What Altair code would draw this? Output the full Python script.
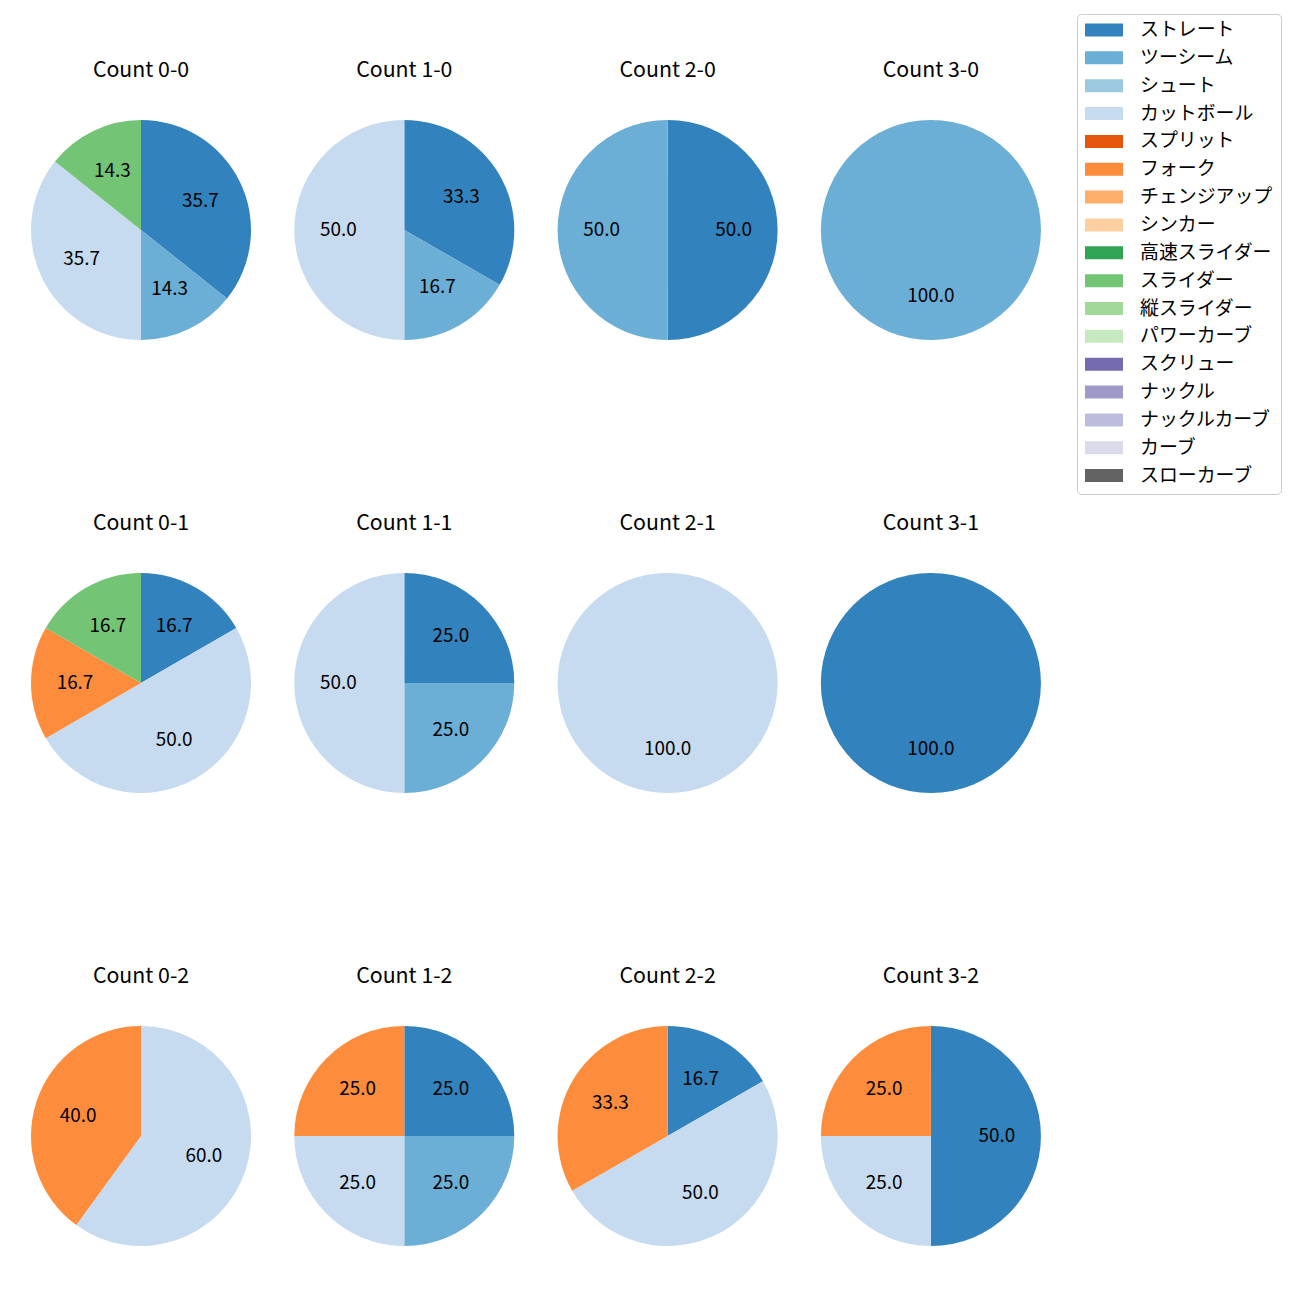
import altair as alt
import pandas as pd

FONT = "Noto Sans CJK JP"

pitch_types = ["ストレート", "ツーシーム", "シュート", "カットボール", "スプリット", "フォーク",
               "チェンジアップ", "シンカー", "高速スライダー", "スライダー", "縦スライダー",
               "パワーカーブ", "スクリュー", "ナックル", "ナックルカーブ", "カーブ", "スローカーブ"]
pitch_colors = ["#3182bd", "#6baed6", "#9ecae1", "#c6dbef", "#e6550d", "#fd8d3c",
                "#fdae6b", "#fdd0a2", "#31a354", "#74c476", "#a1d99b", "#c7e9c0",
                "#756bb1", "#9e9ac8", "#bcbddc", "#dadaeb", "#636363"]

counts = ["0-0", "1-0", "2-0", "3-0",
          "0-1", "1-1", "2-1", "3-1",
          "0-2", "1-2", "2-2", "3-2"]

count_pitches = [
    ["ストレート", "ツーシーム", "カットボール", "スライダー"],
    ["ストレート", "ツーシーム", "カットボール"],
    ["ストレート", "ツーシーム"],
    ["ツーシーム"],
    ["ストレート", "カットボール", "フォーク", "スライダー"],
    ["ストレート", "ツーシーム", "カットボール"],
    ["カットボール"],
    ["ストレート"],
    ["カットボール", "フォーク"],
    ["ストレート", "ツーシーム", "カットボール", "フォーク"],
    ["ストレート", "カットボール", "フォーク"],
    ["ストレート", "カットボール", "フォーク"],
]
count_shares = [
    [35.7, 14.3, 35.7, 14.3],
    [33.3, 16.7, 50.0],
    [50.0, 50.0],
    [100.0],
    [16.7, 50.0, 16.7, 16.7],
    [25.0, 25.0, 50.0],
    [100.0],
    [100.0],
    [60.0, 40.0],
    [25.0, 25.0, 25.0, 25.0],
    [16.7, 50.0, 33.3],
    [50.0, 25.0, 25.0],
]

rows = []
for c, ps, vs in zip(counts, count_pitches, count_shares):
    for p, v in zip(ps, vs):
        rows.append({"cnt": c, "pitch": p, "share": v, "order": pitch_types.index(p)})
df = pd.DataFrame(rows)

legend = alt.Legend(
    orient="none", legendX=1046, legendY=-106, title=None,
    labelFont=FONT, labelFontSize=18.9, labelColor="black",
    symbolType="M-1,-0.333H1V0.333H-1Z", symbolSize=1521, symbolStrokeWidth=0,
    symbolOpacity=1, labelOffset=17, clipHeight=16, rowPadding=8.85, padding=8,
    symbolOffset=-1,
    strokeColor="#cccccc", cornerRadius=4, fillColor="white",
)


def panel(c):
    base = alt.Chart().transform_filter(alt.datum.cnt == c).encode(
        theta=alt.Theta("share:Q", stack=True),
        order=alt.Order("order:Q", sort="ascending"),
        detail="pitch:N",
    )
    arc = base.mark_arc(outerRadius=110).encode(
        color=alt.Color("pitch:N",
                        scale=alt.Scale(domain=pitch_types, range=pitch_colors),
                        legend=legend)
    )
    txt = base.mark_text(radius=66, fontSize=18.9, font=FONT, color="black").encode(
        text=alt.Text("share:Q", format=".1f")
    )
    return alt.layer(arc, txt).properties(
        width=220, height=220,
        title=alt.TitleParams(f"Count {c}", fontSize=21.3, font=FONT, offset=39,
                              anchor="middle", fontWeight="normal", color="black"),
    )


row_charts = [alt.hconcat(*[panel(c) for c in counts[r * 4:(r + 1) * 4]], spacing=43.3)
              for r in range(3)]
chart = alt.vconcat(*row_charts, spacing=172, data=df).properties(
    padding={"left": 23, "top": 5, "right": 10, "bottom": 10}
).configure_view(stroke=None)

chart.save("out.html", embed_options={"renderer": "svg", "actions": False})
